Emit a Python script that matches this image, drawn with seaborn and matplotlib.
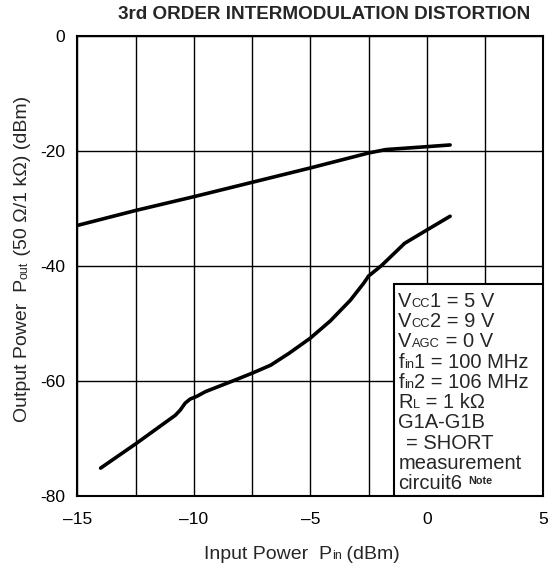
import matplotlib
matplotlib.use("Agg")
import matplotlib.pyplot as plt
import numpy as np
import pandas as pd
import seaborn as sns
from matplotlib.patches import Rectangle

# ---------------- data ----------------
pin_fund = [-15, -12.5, -10, -7.5, -5, -2.5, -1.75, 0, 1]
pout_fund = [-33.0, -30.4, -28.0, -25.5, -23.0, -20.4, -19.8, -19.3, -19.0]

pin_im3 = [-14, -12.5, -10.79, -10.58, -10.37, -10.16, -9.86, -9.5, -8.3, -7.5,
           -6.7, -5.9, -5, -4.14, -3.28, -2.7, -2.5, -1.95, -0.95, 0, 1]
pout_im3 = [-75.2, -71.0, -66.0, -65.1, -63.9, -63.2, -62.7, -61.9, -60.0, -58.7,
            -57.3, -55.2, -52.6, -49.6, -46.0, -43.0, -41.8, -40.0, -36.1, -33.8, -31.4]

x_major = [-15, -10, -5, 0, 5]
x_major_labels = ["\u201315", "\u201310", "\u20135", "0", "5"]
x_minor = [-12.5, -7.5, -2.5, 2.5]
y_major = [-80, -60, -40, -20, 0]
y_major_labels = ["-80", "-60", "-40", "-20", "0"]

title = "3rd ORDER INTERMODULATION DISTORTION"
note_lines = [
    [("V", "n"), ("CC", "s"), ("1 = 5 V", "n")],
    [("V", "n"), ("CC", "s"), ("2 = 9 V", "n")],
    [("V", "n"), ("AGC", "s"), (" = 0 V", "n")],
    [("f", "n"), ("in", "s"), ("1 = 100 MHz", "n")],
    [("f", "n"), ("in", "s"), ("2 = 106 MHz", "n")],
    [("R", "n"), ("L", "s"), (" = 1 k\u03a9", "n")],
    [("G1A-G1B", "n")],
    [("= SHORT", "i")],
    [("measurement", "n")],
    [("circuit6", "n"), ("Note", "sup")],
]
xlabel_pieces = [("Input Power  P", "n"), ("in", "s"), (" (dBm)", "n")]
ylabel_pieces = [("Output Power  P", "n"), ("out", "s"), (" (50 \u03a9/1 k\u03a9) (dBm)", "n")]

# ---------------- style ----------------
sns.set_style("white")
plt.rcParams["font.family"] = ["Liberation Sans", "DejaVu Sans"]

W, H, DPI = 550, 567, 100
fig = plt.figure(figsize=(W / DPI, H / DPI), dpi=DPI)
L, R, T, B = 77.3, 543.3, 35.7, 495.7
ax = fig.add_axes([L / W, 1 - B / H, (R - L) / W, (B - T) / H])

df_f = pd.DataFrame({"pin": pin_fund, "pout": pout_fund})
df_i = pd.DataFrame({"pin": pin_im3, "pout": pout_im3})
sns.lineplot(data=df_f, x="pin", y="pout", ax=ax, color="black", lw=2.6,
             sort=False, estimator=None, zorder=3)
sns.lineplot(data=df_i, x="pin", y="pout", ax=ax, color="black", lw=2.6,
             sort=False, estimator=None, zorder=3)

ax.set_xlim(-15, 5)
ax.set_ylim(-80, 0)
ax.set_xticks(x_major)
ax.set_xticklabels(x_major_labels)
ax.set_xticks(x_minor, minor=True)
ax.set_yticks(y_major)
ax.set_yticklabels(y_major_labels)
ax.tick_params(axis="both", which="both", length=0)
ax.tick_params(axis="x", labelsize=12.5, pad=12, colors="black")
ax.tick_params(axis="y", labelsize=12.5, pad=9, colors="black")
ax.grid(True, which="both", color="black", lw=1.0)
ax.set_axisbelow(True)
for s in ax.spines.values():
    s.set_color("black")
    s.set_linewidth(1.5)
ax.set_xlabel("")
ax.set_ylabel("")

# legend box
ax.add_patch(Rectangle((-1.41, -80), 6.41, 80 - 43.2, transform=ax.transData,
                       facecolor="white", edgecolor="black", lw=1.5, zorder=4))

fig.text(324 / W, 1 - 19 / H, title, ha="center", va="baseline",
         fontsize=13.6, fontweight="bold")

fig.canvas.draw()
rend = fig.canvas.get_renderer()

LEG_FS = 14.5


def props(kind, base_fs):
    if kind == "s":
        return dict(fontsize=base_fs * 0.64, fontweight="normal"), 0
    if kind == "sup":
        return dict(fontsize=7.8, fontweight="bold"), 5
    return dict(fontsize=base_fs, fontweight="normal"), 0


# legend text lines
x0, y0, dy = 398.3, 306.7, 20.3
for i, line in enumerate(note_lines):
    x = x0
    y = y0 + i * dy
    for txt, kind in line:
        if kind == "i":
            x = x0 + 7.5
            kind = "n"
        if kind == "sup":
            x += 6
        p, raise_px = props(kind, LEG_FS)
        t = fig.text(x / W, 1 - (y - raise_px) / H, txt, ha="left", va="baseline",
                     zorder=5, **p)
        x += t.get_window_extent(rend).width

# x label (pieces on a common baseline)
AX_FS = 14
pieces = []
total = 0
for txt, kind in xlabel_pieces:
    p, _ = props(kind, AX_FS)
    t = fig.text(0, 0, txt, ha="left", va="baseline", **p)
    w = t.get_window_extent(rend).width
    pieces.append((t, w))
    total += w
x = 302 - total / 2
for t, w in pieces:
    t.set_position((x / W, 1 - 559 / H))
    x += w

# y label (rotated pieces)
pieces = []
total = 0
for txt, kind in ylabel_pieces:
    p, _ = props(kind, AX_FS)
    t = fig.text(0, 0, txt, ha="left", va="baseline", rotation=90,
                 rotation_mode="anchor", **p)
    h = t.get_window_extent(rend).height
    pieces.append((t, h))
    total += h
y = 259 + total / 2
for t, h in pieces:
    t.set_position((27 / W, 1 - y / H))
    y -= h

fig.savefig("out.png", dpi=DPI)
